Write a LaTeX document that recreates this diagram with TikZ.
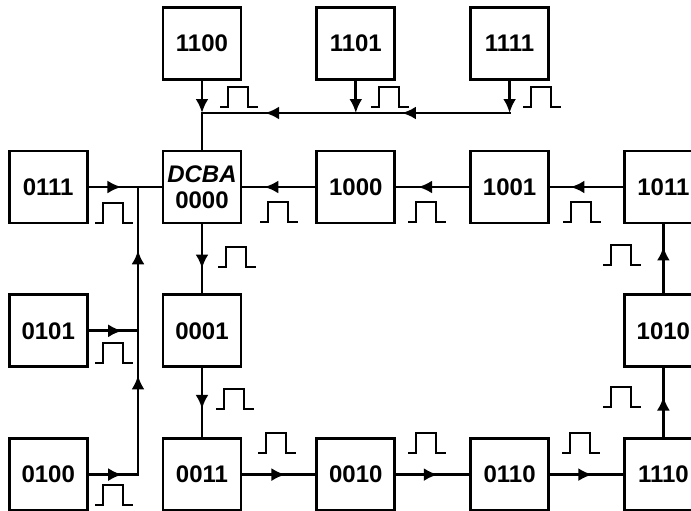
\documentclass[tikz,border=0pt]{standalone}
\usepackage{fontspec}
\setmainfont{Liberation Sans}
\usetikzlibrary{arrows.meta,positioning,decorations.markings}

\begin{document}
\begin{tikzpicture}[
  x=0.5pt, y=-0.5pt,
  node distance=34.5pt and 36.5pt,
  box/.style={draw, line width=1.4pt, minimum width=39pt, minimum height=36pt,
    inner sep=0pt, align=center, font=\fontsize{12}{13}\selectfont\bfseries},
  wire/.style={line width=1.4pt, line cap=rect},
  arr/.style={wire, -{Latex[length=7pt,width=6.5pt]}},
  midarr/.style={wire, postaction={decorate},
    decoration={markings, mark=at position #1 with {\arrow{Latex[length=7pt,width=6.5pt]}}}},
  pulse/.pic={\draw[line width=1.2pt] (0,0) -- (8,0) -- (8,-20) -- (28,-20) -- (28,0) -- (38,0);},
]
\clip (0,0) rectangle (691,510);

% counter states
\node[box] (b0000) at (202,187) {{\itshape DCBA}\\0000};
\node[box, right=of b0000] (b1000) {1000};
\node[box, right=of b1000] (b1001) {1001};
\node[box, right=of b1001] (b1011) {1011};
\node[box, below=of b1011] (b1010) {1010};
\node[box, below=of b1010] (b1110) {1110};
\node[box, below=of b0000] (b0001) {0001};
\node[box, below=of b0001] (b0011) {0011};
\node[box, right=of b0011] (b0010) {0010};
\node[box, right=of b0010] (b0110) {0110};
\node[box, above=of b0000] (b1100) {1100};
\node[box, above=of b1000] (b1101) {1101};
\node[box, above=of b1001] (b1111) {1111};
\node[box, left=of b0000] (b0111) {0111};
\node[box, below=of b0111] (b0101) {0101};
\node[box, below=of b0101] (b0100) {0100};

% bus junctions
\coordinate (busy) at (0,113);
\coordinate (busx) at (138,0);
\coordinate (t1100) at (b1100 |- busy);
\coordinate (t1101) at (b1101 |- busy);
\coordinate (t1111) at (b1111 |- busy);
\coordinate (l0111) at (busx |- b0000);
\coordinate (l0101) at (busx |- b0101);
\coordinate (l0100) at (busx |- b0100);

% top bus
\draw[arr] (b1100) -- (t1100);
\draw[arr] (b1101) -- (t1101);
\draw[arr] (b1111) -- (t1111);
\draw[midarr=0.70] (t1111) -- (t1101);
\draw[midarr=0.59] (t1101) -- (t1100);
\draw[wire] (t1100) -- (b0000);

% left bus
\draw[midarr=0.45] (b0111) -- (b0000);
\draw[midarr=0.68] (b0101) -- (l0101);
\draw[midarr=0.68] (b0100) -- (l0100);
\draw[midarr=0.69] (l0100) -- (l0101);
\draw[midarr=0.56] (l0101) -- (l0111);

% main loop
\draw[midarr=0.64] (b0000) -- (b0001);
\draw[midarr=0.59] (b0001) -- (b0011);
\draw[midarr=0.59] (b0011) -- (b0010);
\draw[midarr=0.57] (b0010) -- (b0110);
\draw[midarr=0.58] (b0110) -- (b1110);
\draw[midarr=0.59] (b1110) -- (b1010);
\draw[midarr=0.68] (b1010) -- (b1011);
\draw[midarr=0.72] (b1011) -- (b1001);
\draw[midarr=0.70] (b1001) -- (b1000);
\draw[midarr=0.70] (b1000) -- (b0000);

% clock pulses
\foreach \px/\py in {220/107, 371/107, 523/107, 95/223, 95/363, 95/505,
  260/222, 408/222, 563/222, 218/267, 216/409,
  258/453, 408/453, 562/453, 603/407, 603/265}
  \pic at (\px,\py) {pulse};
\end{tikzpicture}
\end{document}
